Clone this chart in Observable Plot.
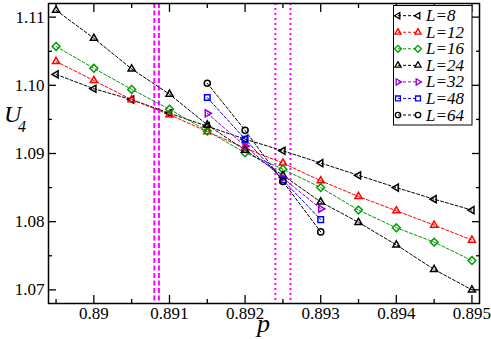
<!DOCTYPE html>
<html>
<head>
<meta charset="utf-8">
<script src="https://cdn.jsdelivr.net/npm/d3@7"></script>
<script src="https://cdn.jsdelivr.net/npm/@observablehq/plot@0.6"></script>
<style>
  html, body { margin: 0; padding: 0; background: white; }
  #chart svg { display: block; }
</style>
</head>
<body>
<div id="chart"></div>
<script>
// ---- data ----
const pLong = [0.8895, 0.8900, 0.8905, 0.8910, 0.8915, 0.8920, 0.8925, 0.8930, 0.8935, 0.8940, 0.8945, 0.8950];
const pShort = [0.8915, 0.8920, 0.8925, 0.8930];

const u8  = [1.1016, 1.0995, 1.0979, 1.0959, 1.0940, 1.0921, 1.0904, 1.0886, 1.0868, 1.0850, 1.0833, 1.0817];
const u12 = [1.1035, 1.1007, 1.0979, 1.0957, 1.0932, 1.0908, 1.0886, 1.0860, 1.0837, 1.0816, 1.0795, 1.0773];
const u16 = [1.1057, 1.1025, 1.0994, 1.0965, 1.0933, 1.0901, 1.0877, 1.0850, 1.0817, 1.0791, 1.0770, 1.0743];
const u24 = [1.1110, 1.1069, 1.1024, 1.0987, 1.0942, 1.0905, 1.0868, 1.0829, 1.0799, 1.0766, 1.0730, 1.0700];
const u32 = [1.0959, 1.0911, 1.0864, 1.0819];
const u48 = [1.0982, 1.0921, 1.0861, 1.0803];
const u64 = [1.1003, 1.0934, 1.0859, 1.0785];

const seriesNames = ["L=8", "L=12", "L=16", "L=24", "L=32", "L=48", "L=64"];
const seriesColors = ["#000000", "#ff0000", "#009a00", "#000000", "#9400d3", "#0000ff", "#000000"];

const xTicks = [0.890, 0.891, 0.892, 0.893, 0.894, 0.895];
const xMinorTicks = [0.8895, 0.8905, 0.8915, 0.8925, 0.8935, 0.8945];
const yTicks = [1.07, 1.08, 1.09, 1.10, 1.11];
const yMinorTicks = [1.075, 1.085, 1.095, 1.105];

const dashedLines = [0.8908, 0.89086];
const dottedLines = [0.8924, 0.8926];

// ---- symbols ----
function polySym(startDeg, n, k) {
  return {
    draw(ctx, size) {
      const r = Math.sqrt(size / Math.PI) * k;
      for (let i = 0; i < n; i++) {
        const a = (startDeg + i * 360 / n) * Math.PI / 180;
        const x = r * Math.cos(a), y = r * Math.sin(a);
        if (i === 0) ctx.moveTo(x, y); else ctx.lineTo(x, y);
      }
      ctx.closePath();
    }
  };
}
const circleSym = {
  draw(ctx, size) {
    const r = Math.sqrt(size / Math.PI) * 0.9;
    ctx.moveTo(r, 0);
    ctx.arc(0, 0, r, 0, 2 * Math.PI);
  }
};
const symbols = [
  polySym(180, 3, 1.2),   // left triangle
  polySym(-90, 3, 1.2),   // up triangle
  polySym(-90, 4, 1.15),  // diamond
  polySym(-90, 3, 1.2),   // up triangle
  polySym(0, 3, 1.2),     // right triangle
  polySym(45, 4, 1.15),   // square
  circleSym               // circle
];

const seriesX = [pLong, pLong, pLong, pLong, pShort, pShort, pShort];
const seriesU = [u8, u12, u16, u24, u32, u48, u64];

const lineMarks = [];
const dotMarks = [];
seriesU.forEach((u, i) => {
  const rows = u.map((v, j) => ({p: seriesX[i][j], u: v}));
  lineMarks.push(Plot.line(rows, {x: "p", y: "u", stroke: seriesColors[i], strokeWidth: 1, strokeDasharray: "3,2"}));
  dotMarks.push(Plot.dot(rows, {x: "p", y: "u", stroke: seriesColors[i], fill: "none", strokeWidth: 1.5, r: 3.4, symbol: symbols[i]}));
});

const axisStyle = {stroke: "black", strokeWidth: 1.3};

const chart = Plot.plot({
  width: 491,
  height: 340,
  marginLeft: 48,
  marginRight: 12,
  marginTop: 3,
  marginBottom: 37,
  style: {fontFamily: "'Liberation Serif', 'DejaVu Serif', serif", fontSize: "17px", background: "white", color: "black"},
  x: {domain: [0.8894, 0.8951]},
  y: {domain: [1.068, 1.112]},
  marks: [
    Plot.ruleX(dashedLines, {stroke: "#ff00ff", strokeWidth: 2, strokeDasharray: "5,2.5"}),
    Plot.ruleX(dottedLines, {stroke: "#ff00ff", strokeWidth: 2, strokeDasharray: "2,3"}),
    ...lineMarks,
    ...dotMarks,
    Plot.axisX(xTicks, {anchor: "bottom", tickSize: -8, tickPadding: 11, label: null, tickFormat: d => String(+d.toFixed(3)), ...axisStyle, fill: "black", fontSize: 17}),
    Plot.axisX(xMinorTicks, {anchor: "bottom", tickSize: -4, label: null, tickFormat: () => "", ...axisStyle}),
    Plot.axisX(xTicks, {anchor: "top", tickSize: -8, label: null, tickFormat: () => "", ...axisStyle}),
    Plot.axisX(xMinorTicks, {anchor: "top", tickSize: -4, label: null, tickFormat: () => "", ...axisStyle}),
    Plot.axisY(yTicks, {anchor: "left", tickSize: -8, tickPadding: 12, label: null, tickFormat: d3.format(".2f"), ...axisStyle, fill: "black", fontSize: 17}),
    Plot.axisY(yMinorTicks, {anchor: "left", tickSize: -4, label: null, tickFormat: () => "", ...axisStyle}),
    Plot.axisY(yTicks, {anchor: "right", tickSize: -8, label: null, tickFormat: () => "", ...axisStyle}),
    Plot.axisY(yMinorTicks, {anchor: "right", tickSize: -4, label: null, tickFormat: () => "", ...axisStyle}),
    Plot.frame({stroke: "black", strokeWidth: 1.5})
  ]
});

document.getElementById("chart").appendChild(chart);

// ---- axis titles and legend ----
const svg = d3.select(chart);
const serif = "'Liberation Serif', 'DejaVu Serif', serif";

svg.append("text").attr("x", 4).attr("y", 122).attr("text-anchor", "start").attr("font-family", serif)
  .attr("font-style", "italic").attr("font-size", 24).attr("fill", "black").text("U");
svg.append("text").attr("x", 18).attr("y", 132).attr("text-anchor", "start").attr("font-family", serif)
  .attr("font-style", "italic").attr("font-size", 16).attr("fill", "black").text("4");
svg.append("text").attr("x", 263.5).attr("y", 332).attr("text-anchor", "middle").attr("font-family", serif)
  .attr("font-style", "italic").attr("font-size", 26).attr("fill", "black").text("p");

const lg = svg.append("g");
lg.append("rect").attr("x", 393.5).attr("y", 5.5).attr("width", 78.5).attr("height", 119.5)
  .attr("fill", "white").attr("stroke", "black").attr("stroke-width", 1);
seriesNames.forEach((name, i) => {
  const cy = 15.7 + i * 16.55;
  const g = lg.append("g");
  g.append("line").attr("x1", 398).attr("x2", 418).attr("y1", cy).attr("y2", cy)
    .attr("stroke", seriesColors[i]).attr("stroke-width", 1).attr("stroke-dasharray", "3,2");
  [398, 418].forEach(cx => {
    const p = d3.path();
    symbols[i].draw(p, 3.0 * 3.0 * Math.PI);
    g.append("path").attr("d", p.toString()).attr("transform", `translate(${cx},${cy})`)
      .attr("fill", "none").attr("stroke", seriesColors[i]).attr("stroke-width", 1.3);
  });
  g.append("text").attr("x", 426).attr("y", cy + 5.5).attr("text-anchor", "start").attr("font-family", serif)
    .attr("font-style", "italic").attr("font-size", 17).attr("fill", "black").text(name);
});
</script>
</body>
</html>
